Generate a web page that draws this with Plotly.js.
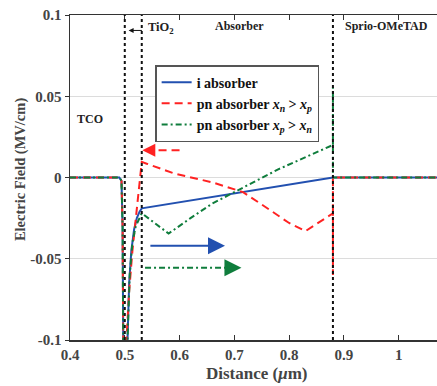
<!DOCTYPE html>
<html>
<head>
<meta charset="utf-8">
<script src="https://cdn.plot.ly/plotly-3.0.1.min.js"></script>
<style>html,body{margin:0;padding:0;background:#fff;}#chart{width:437px;height:386px;}</style>
</head>
<body>
<div id="chart"></div>
<script>
// ---- data ----
const iAbsX = [0.40, 0.49, 0.494, 0.496, 0.498, 0.500, 0.503, 0.505, 0.508, 0.512, 0.517, 0.522, 0.527, 0.531, 0.60, 0.70, 0.80, 0.88, 0.88, 0.95, 1.07];
const iAbsY = [0, 0, -0.002, -0.03, -0.15, -0.3, -0.3, -0.1, -0.065, -0.045, -0.032, -0.025, -0.021, -0.019, -0.0152, -0.0098, -0.0043, 0, 0, 0, 0];

const pnNX = [0.40, 0.49, 0.494, 0.496, 0.498, 0.500, 0.501, 0.503, 0.508, 0.514, 0.520, 0.527, 0.531, 0.54, 0.59, 0.66, 0.716, 0.765, 0.80, 0.83, 0.88, 0.88, 0.88, 1.07];
const pnNY = [0, 0, -0.002, -0.03, -0.15, -0.3, -0.3, -0.1, -0.07, -0.045, -0.026, 0, 0.0096, 0.0085, 0.0025, -0.003, -0.009, -0.02, -0.028, -0.033, -0.022, -0.06, 0, 0];

const pnPX = [0.40, 0.49, 0.494, 0.496, 0.498, 0.500, 0.503, 0.505, 0.509, 0.514, 0.520, 0.531, 0.58, 0.62, 0.66, 0.70, 0.74, 0.78, 0.82, 0.86, 0.88, 0.88, 0.88, 1.07];
const pnPY = [0, 0, -0.002, -0.03, -0.15, -0.3, -0.3, -0.1, -0.06, -0.04, -0.03, -0.022, -0.0345, -0.025, -0.016, -0.009, -0.002, 0.005, 0.011, 0.017, 0.020, 0.0555, 0, 0];

const seriesNames = ['<b>i absorber</b>', '<b>pn absorber <i>x</i><sub><i>n</i></sub> > <i>x</i><sub><i>p</i></sub></b>', '<b>pn absorber <i>x</i><sub><i>p</i></sub> > <i>x</i><sub><i>n</i></sub></b>'];
const xTicks = [0.4, 0.5, 0.6, 0.7, 0.8, 0.9, 1];
const xTickText = ['0.4', '0.5', '0.6', '0.7', '0.8', '0.9', '1'];
const yTicks = [-0.1, -0.05, 0, 0.05, 0.1];
const yTickText = ['-0.1', '-0.05', '0', '0.05', '0.1'];
const interfaces = [0.5, 0.531, 0.88];
const xTitle = '<b>Distance (<i>μ</i>m)</b>';
const yTitle = '<b>Electric Field (MV/cm)</b>';

// direction arrows: [xStart, xEnd(tip), y]
const redArrow = [0.60, 0.532, 0.0167];
const blueArrow = [0.544, 0.683, -0.042];
const greenArrow = [0.537, 0.713, -0.0555];

// region labels
const regionText = ['<b>TCO</b>', '<b>Absorber</b>', '<b>Sprio-OMeTAD</b>'];
const regionX = [0.437, 0.71, 0.977];
const regionY = [0.036, 0.093, 0.093];
const tioLabel = ['<b>TiO<sub>2</sub></b>'];
const tioArrow = [0.534, 0.507, 0.0905];

const BLUE = '#2250b0', RED = '#ff2222', GREEN = '#0f7d3c';
const FONT = 'Liberation Serif, Times New Roman, serif';
const DASH = '8px,5px', DASHDOT = '6px,3px,2px,3px';

const traces = [
  {x: iAbsX, y: iAbsY, mode: 'lines', name: seriesNames[0], line: {color: BLUE, width: 2}, legendrank: 1},
  {x: pnNX, y: pnNY, mode: 'lines', name: seriesNames[1], line: {color: RED, width: 2, dash: DASH}, legendrank: 2},
  {x: pnPX, y: pnPY, mode: 'lines', name: seriesNames[2], line: {color: GREEN, width: 2, dash: DASHDOT}, legendrank: 3},
  {x: [redArrow[0], redArrow[1] + 0.022], y: [redArrow[2], redArrow[2]], mode: 'lines', showlegend: false, line: {color: RED, width: 2, dash: DASH}},
  {x: [greenArrow[0], greenArrow[1] - 0.025], y: [greenArrow[2], greenArrow[2]], mode: 'lines', showlegend: false, line: {color: GREEN, width: 2, dash: DASHDOT}}
];

const shapes = interfaces.map(v => ({
  type: 'line', xref: 'x', yref: 'paper', x0: v, x1: v, y0: 0, y1: 1,
  line: {color: '#111', width: 2, dash: 'dot'}, layer: 'above'
}));

const annotations = [];
regionText.forEach((t, i) => annotations.push({
  x: regionX[i], y: regionY[i], xref: 'x', yref: 'y', text: t, showarrow: false,
  font: {family: FONT, size: 12, color: '#222'}
}));
annotations.push({x: tioArrow[0] + 0.004, y: tioArrow[2] + 0.0015, xref: 'x', yref: 'y', text: tioLabel[0], showarrow: false, xanchor: 'left', font: {family: FONT, size: 12.5, color: '#222'}});
annotations.push({x: tioArrow[1], y: tioArrow[2], ax: tioArrow[0], ay: tioArrow[2], xref: 'x', yref: 'y', axref: 'x', ayref: 'y', text: '', showarrow: true, arrowhead: 2, arrowsize: 1, arrowwidth: 1, arrowcolor: '#111'});
annotations.push({x: redArrow[1], y: redArrow[2], ax: redArrow[1] + 0.024, ay: redArrow[2], xref: 'x', yref: 'y', axref: 'x', ayref: 'y', text: '', showarrow: true, arrowhead: 2, arrowsize: 1.3, arrowwidth: 2, arrowcolor: RED});
annotations.push({x: blueArrow[1], y: blueArrow[2], ax: blueArrow[0], ay: blueArrow[2], xref: 'x', yref: 'y', axref: 'x', ayref: 'y', text: '', showarrow: true, arrowhead: 2, arrowsize: 1.7, arrowwidth: 2, arrowcolor: BLUE});
annotations.push({x: greenArrow[1], y: greenArrow[2], ax: greenArrow[1] - 0.028, ay: greenArrow[2], xref: 'x', yref: 'y', axref: 'x', ayref: 'y', text: '', showarrow: true, arrowhead: 2, arrowsize: 1.7, arrowwidth: 2, arrowcolor: GREEN});
// axis titles
annotations.push({x: 0.51, y: -0.102, xref: 'paper', yref: 'paper', text: xTitle, showarrow: false, xanchor: 'center', yanchor: 'middle', font: {family: FONT, size: 17, color: '#444'}});
annotations.push({x: -0.136, y: 0.523, xref: 'paper', yref: 'paper', text: yTitle, showarrow: false, textangle: -90, xanchor: 'center', yanchor: 'middle', font: {family: FONT, size: 14.5, color: '#444'}});

const layout = {
  width: 437, height: 386,
  margin: {l: 70, r: 0, t: 15, b: 46},
  paper_bgcolor: '#fff', plot_bgcolor: '#fff',
  font: {family: FONT, color: '#333'},
  showlegend: true,
  legend: {x: 0.232, y: 0.846, xanchor: 'left', yanchor: 'top', bgcolor: '#fff', bordercolor: '#555', borderwidth: 1.5,
           font: {family: FONT, size: 14, color: '#111'}, tracegroupgap: 0},
  xaxis: {range: [0.4, 1.07], tickvals: xTicks, ticktext: xTickText, showgrid: false, zeroline: false,
          showline: true, linecolor: '#333', linewidth: 1.5, mirror: 'ticks', ticks: 'inside', ticklen: 5, tickcolor: '#333',
          tickfont: {family: FONT, size: 15, color: '#444', weight: 'bold'}},
  yaxis: {range: [-0.1, 0.1], tickvals: yTicks, ticktext: yTickText, showgrid: true, gridcolor: '#dcdcdc', gridwidth: 1, zeroline: false,
          showline: true, linecolor: '#333', linewidth: 1.5, ticks: 'outside', ticklen: 4, tickcolor: '#333',
          tickfont: {family: FONT, size: 15, color: '#444', weight: 'bold'}},
  shapes: shapes,
  annotations: annotations
};

Plotly.newPlot('chart', traces, layout, {displayModeBar: false, staticPlot: true});
</script>
</body>
</html>
